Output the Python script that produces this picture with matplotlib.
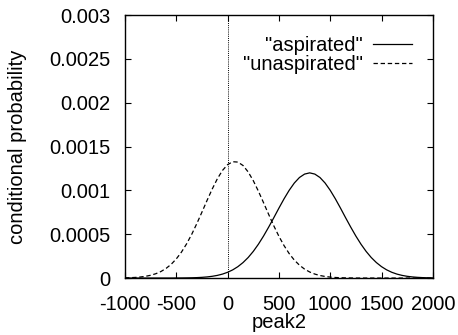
import numpy as np
import matplotlib
matplotlib.use("Agg")
import matplotlib.pyplot as plt

# peak2 grid (read every 50 units off the figure)
peak2 = [-1000, -950, -900, -850, -800, -750, -700, -650, -600, -550,
         -500, -450, -400, -350, -300, -250, -200, -150, -100, -50,
         0, 50, 100, 150, 200, 250, 300, 350, 400, 450,
         500, 550, 600, 650, 700, 750, 800, 850, 900, 950,
         1000, 1050, 1100, 1150, 1200, 1250, 1300, 1350, 1400, 1450,
         1500, 1550, 1600, 1650, 1700, 1750, 1800, 1850, 1900, 1950, 2000]

# conditional probability, "aspirated" (solid)
aspirated = [0.0, 0.0, 0.0, 0.0, 0.0, 0.0, 0.0, 0.0, 0.0, 0.0,
             0.0000006, 0.000001, 0.0000018, 0.000003, 0.000005, 0.0000081, 0.0000129, 0.000020, 0.0000304, 0.0000452,
             0.0000658, 0.0000935, 0.000130, 0.0001765, 0.000234, 0.000304, 0.000386, 0.000479, 0.000581, 0.000688,
             0.000798, 0.000904, 0.001001, 0.001084, 0.001147, 0.001186, 0.001200, 0.001186, 0.001147, 0.001084,
             0.001001, 0.000904, 0.000798, 0.000688, 0.000581, 0.000479, 0.000386, 0.000304, 0.000234, 0.0001765,
             0.000130, 0.0000935, 0.0000658, 0.0000452, 0.0000304, 0.000020, 0.0000129, 0.0000081, 0.000005, 0.000003,
             0.0000018]

# conditional probability, "unaspirated" (dashed)
unaspirated = [0.0000023, 0.0000041, 0.0000071, 0.0000121, 0.0000198, 0.0000317, 0.0000494, 0.0000746, 0.000110, 0.000157,
               0.000219, 0.000296, 0.000390, 0.000499, 0.000622, 0.000753, 0.000887, 0.001016, 0.001133, 0.001228,
               0.001294, 0.001327, 0.001323, 0.001284, 0.001211, 0.001111, 0.000991, 0.000860, 0.000726, 0.000596,
               0.000476, 0.000370, 0.000279, 0.000205, 0.000147, 0.000102, 0.000069, 0.0000453, 0.000029, 0.000018,
               0.0000109, 0.0000064, 0.0000037, 0.000002, 0.0000011, 0.0, 0.0, 0.0, 0.0, 0.0,
               0.0, 0.0, 0.0, 0.0, 0.0, 0.0, 0.0, 0.0, 0.0, 0.0,
               0.0]

xticks = [-1000, -500, 0, 500, 1000, 1500, 2000]
yticks = [0, 0.0005, 0.001, 0.0015, 0.002, 0.0025, 0.003]
ytick_labels = ["0", "0.0005", "0.001", "0.0015", "0.002", "0.0025", "0.003"]

plt.rcParams["font.family"] = ["Liberation Sans", "DejaVu Sans"]
plt.rcParams["font.size"] = 14.5

fig = plt.figure(figsize=(4.58, 3.35), dpi=100)
ax = fig.add_axes([0.273, 0.170, 0.672, 0.785])

ax.axvline(0, color="black", lw=0.7, ls=(0, (1, 1.2)))
ax.plot(peak2, aspirated, color="black", lw=0.9, label='"aspirated"')
ax.plot(peak2, unaspirated, color="black", lw=0.9, ls=(0, (3.5, 2.2)),
        label='"unaspirated"')

ax.set_xlim(-1000, 2000)
ax.set_ylim(0, 0.003)
ax.set_xticks(xticks)
ax.set_xticklabels([str(v) for v in xticks])
ax.set_yticks(yticks)
ax.set_yticklabels(ytick_labels)
ax.tick_params(direction="in", length=4.5, width=0.8, top=True, right=True)
ax.tick_params(axis="y", pad=10.5)
ax.tick_params(axis="x", pad=12.5)
for s in ax.spines.values():
    s.set_linewidth(1.0)

ax.set_xlabel("peak2")
ax.set_ylabel("conditional probability")
ax.xaxis.set_label_coords(0.5, -0.133)
ax.yaxis.set_label_coords(-0.32, 0.5)

ax.legend(loc="upper right", bbox_to_anchor=(0.944, 0.937), frameon=False,
          markerfirst=False, handlelength=1.9, handletextpad=0.5,
          labelspacing=0.0, borderpad=0.2, borderaxespad=0.0)

fig.savefig("out.png", dpi=100)
